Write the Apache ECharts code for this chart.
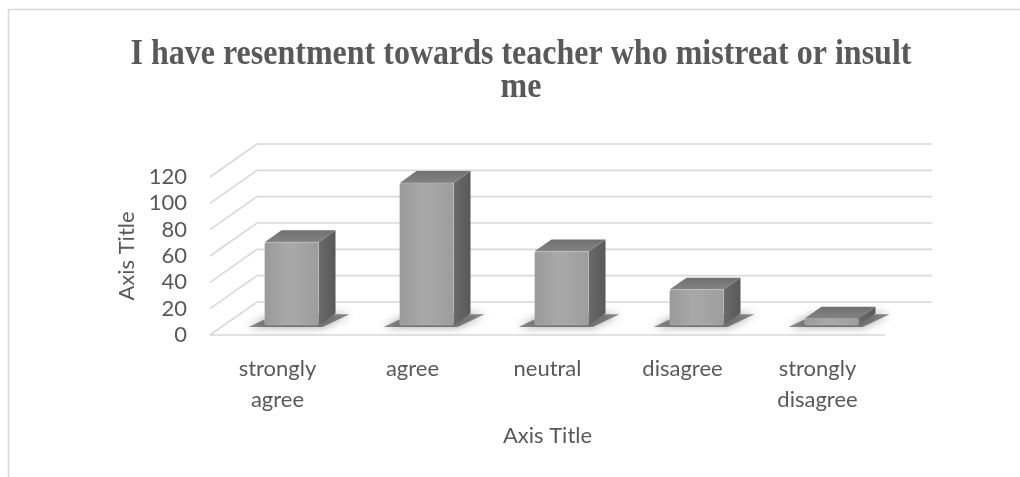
<!DOCTYPE html>
<html>
<head>
<meta charset="utf-8">
<script src="https://cdn.jsdelivr.net/npm/echarts@6/dist/echarts.min.js"></script>
<style>
  html, body { margin: 0; padding: 0; background: #ffffff; }
  #chart { width: 1020px; height: 477px; }
</style>
</head>
<body>
<div id="chart"></div>
<script>
// Survey answers and their counts
const categories = ['strongly agree', 'agree', 'neutral', 'disagree', 'strongly disagree'];
const counts = [63, 108, 56, 27, 5];
const yTicks = [0, 20, 40, 60, 80, 100, 120];
const titleLines = ['I have resentment towards teacher who mistreat or insult', 'me'];

// Oblique depth of the floor (px) and the slice of it a bar occupies
const DEPTH = [47, -33];
const BAR_FRONT = 0.3;
const BAR_BACK = 0.66;
const BAR_WIDTH_RATIO = 0.4;

const chart = echarts.init(document.getElementById('chart'), null, { renderer: 'canvas' });

// Walls: slanted side-wall segment, then the horizontal back-wall line
function renderGridLine(params, api) {
  const cs = params.coordSys;
  const y = api.coord([0, api.value(1)])[1];
  const x0 = cs.x, x1 = cs.x + cs.width;
  const lineStyle = { stroke: '#d9d9d9', lineWidth: 1.6, fill: null };
  const children = [{
    type: 'polyline',
    shape: { points: [[x0, y], [x0 + DEPTH[0], y + DEPTH[1]], [x1 + DEPTH[0], y + DEPTH[1]]] },
    style: lineStyle
  }];
  if (api.value(1) === 0) {
    children.push({
      type: 'line',
      shape: { x1: x0, y1: y, x2: x1, y2: y },
      style: lineStyle
    });
  }
  return { type: 'group', children };
}

// 3D-looking column: floor shadow, front face, top face and right side face
function renderBar(params, api) {
  const idx = api.value(0);
  const base = api.coord([idx, 0]);
  const top = api.coord([idx, api.value(1)]);
  const bw = api.size([1, 0])[0] * BAR_WIDTH_RATIO;
  const fx = DEPTH[0] * BAR_FRONT, fy = DEPTH[1] * BAR_FRONT;
  const dx = DEPTH[0] * (BAR_BACK - BAR_FRONT), dy = DEPTH[1] * (BAR_BACK - BAR_FRONT);
  const xL = base[0] - bw / 2 + fx, xR = base[0] + bw / 2 + fx;
  const yB = base[1] + fy, yT = top[1] + fy;

  const shadow = {
    type: 'polygon',
    shape: { points: [[xL - 16, yB + 2], [xR + 4, yB + 2], [xR + dx + 14, yB + dy + 1], [xL + dx - 6, yB + dy + 1]] },
    style: { fill: 'rgba(50,50,50,0.55)', shadowBlur: 10, shadowColor: 'rgba(40,40,40,0.8)' }
  };
  const side = {
    type: 'polygon',
    shape: { points: [[xR, yT], [xR + dx, yT + dy], [xR + dx, yB + dy], [xR, yB]] },
    style: {
      fill: new echarts.graphic.LinearGradient(0, 0, 1, 0, [
        { offset: 0, color: '#6a6a6a' }, { offset: 1, color: '#595959' }
      ])
    }
  };
  const topFace = {
    type: 'polygon',
    shape: { points: [[xL, yT], [xR, yT], [xR + dx, yT + dy], [xL + dx, yT + dy]] },
    style: {
      fill: new echarts.graphic.LinearGradient(0, 1, 0, 0, [
        { offset: 0, color: '#838383' }, { offset: 1, color: '#707070' }
      ])
    }
  };
  const front = {
    type: 'rect',
    shape: { x: xL, y: yT, width: xR - xL, height: yB - yT, r: 2 },
    style: {
      fill: new echarts.graphic.LinearGradient(0, 0, 1, 0, [
        { offset: 0, color: '#999999' }, { offset: 0.45, color: '#a9a9a9' }, { offset: 1, color: '#9d9d9d' }
      ]),
      stroke: 'rgba(255,255,255,0.18)', lineWidth: 1
    }
  };
  return { type: 'group', children: [shadow, side, topFace, front] };
}

// Bold serif title, drawn slightly tall
const titleFont = 'bold 32px "Liberation Serif", "Times New Roman", serif';
const titleGraphics = titleLines.map((line, i) => ({
  type: 'text',
  x: 521,
  y: 55 + i * 33,
  scaleY: 1.12,
  silent: true,
  style: { text: line, font: titleFont, fill: '#595959', align: 'center', verticalAlign: 'middle' }
}));

const option = {
  backgroundColor: '#ffffff',
  animation: false,
  graphic: [{
    type: 'rect',
    shape: { x: 8.5, y: 9.5, width: 1100, height: 600 },
    style: { fill: null, stroke: '#d9d9d9', lineWidth: 1.5 },
    silent: true,
    z: -10
  }].concat(titleGraphics),
  grid: { left: 210, right: 135, top: 177, bottom: 142 },
  xAxis: {
    type: 'category',
    data: categories,
    axisLine: { show: false },
    axisTick: { show: false },
    axisLabel: {
      margin: 18,
      fontFamily: 'Lato',
      fontSize: 22,
      lineHeight: 31,
      color: '#595959',
      formatter: v => v.replace(' ', '\n')
    },
    name: 'Axis Title',
    nameLocation: 'middle',
    nameGap: 90,
    nameTextStyle: { fontFamily: 'Lato', fontSize: 22, color: '#595959' }
  },
  yAxis: {
    type: 'value',
    min: 0,
    max: 120,
    interval: 20,
    axisLine: { show: false },
    axisTick: { show: false },
    splitLine: { show: false },
    axisLabel: {
      margin: 23,
      fontFamily: 'Lato',
      fontSize: 22,
      lineHeight: 20,
      color: '#595959',
      padding: [6, 0, 0, 0],
      showMinLabel: true,
      showMaxLabel: true,
      hideOverlap: false
    },
    name: 'Axis Title',
    nameLocation: 'middle',
    nameGap: 65,
    nameTextStyle: { fontFamily: 'Lato', fontSize: 22, color: '#595959' }
  },
  series: [
    {
      type: 'custom',
      name: 'walls',
      coordinateSystem: 'cartesian2d',
      clip: false,
      silent: true,
      z: 1,
      renderItem: renderGridLine,
      encode: { x: 0, y: 1 },
      data: yTicks.map(v => [0, v])
    },
    {
      type: 'custom',
      name: 'count',
      coordinateSystem: 'cartesian2d',
      clip: false,
      z: 3,
      renderItem: renderBar,
      encode: { x: 0, y: 1 },
      data: counts.map((v, i) => [i, v])
    }
  ]
};

chart.setOption(option);
</script>
</body>
</html>
